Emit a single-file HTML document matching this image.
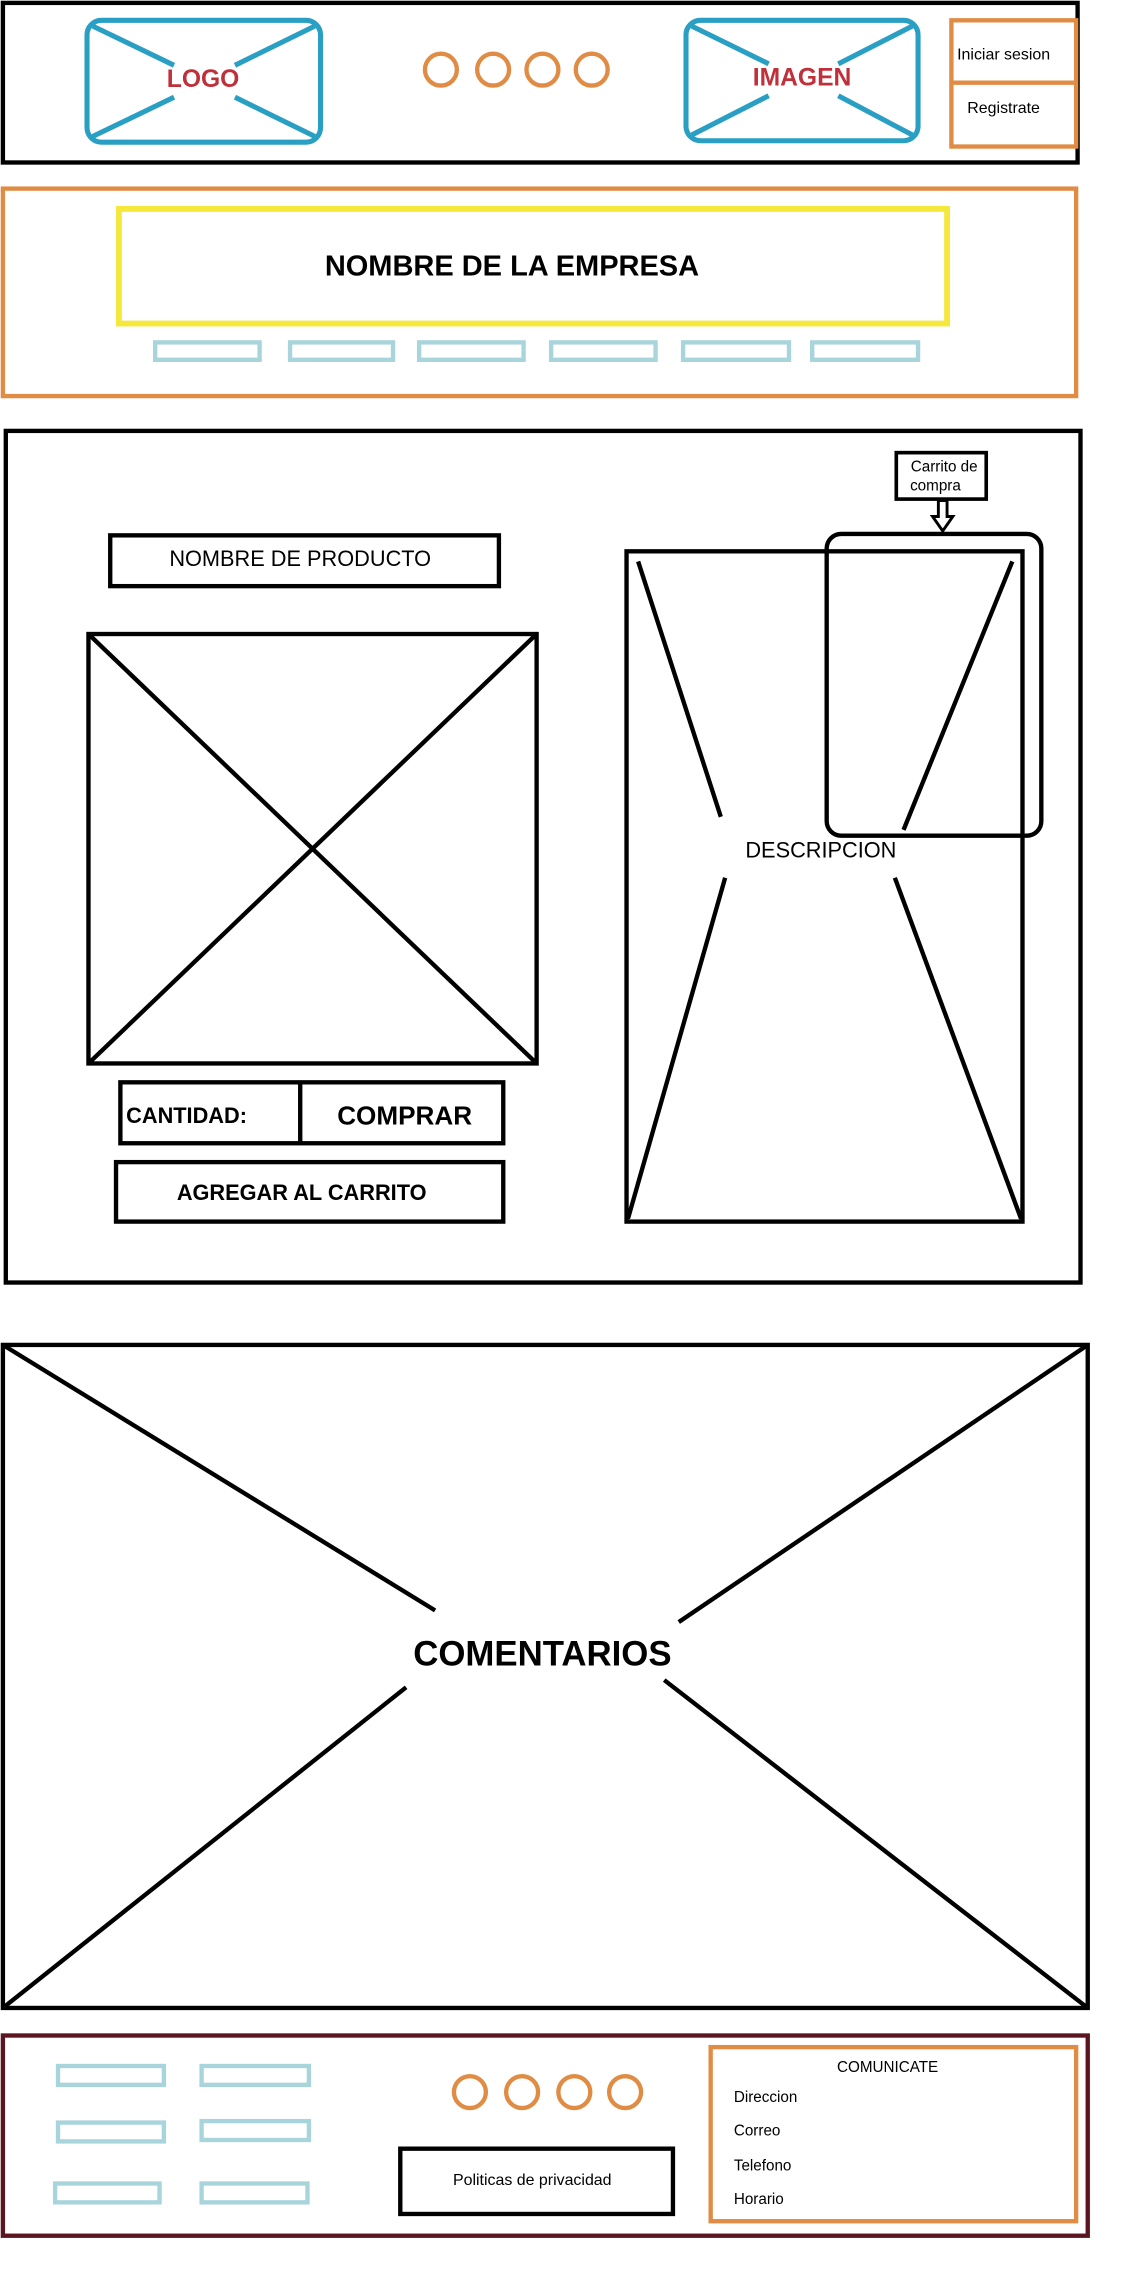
<!DOCTYPE html>
<html><head><meta charset="utf-8"><style>
html,body{margin:0;padding:0;background:#fff;width:1124px;height:2272px;overflow:hidden}
svg{display:block}
text{font-family:"Liberation Sans",sans-serif}
</style></head><body>
<svg width="1124" height="2272" viewBox="0 0 775 1566" preserveAspectRatio="none" fill="none">
<g>
<rect x="2" y="2" width="741" height="110" stroke="#000" stroke-width="3"/>
<g stroke="#2a9fc4" stroke-width="3.5">
<rect x="60" y="14" width="161" height="84" rx="10"/>
<line x1="64" y1="18" x2="120" y2="45"/><line x1="217" y1="18" x2="162" y2="45"/>
<line x1="64" y1="94" x2="120" y2="67"/><line x1="217" y1="94" x2="162" y2="67"/>
</g>
<text x="140" y="60" text-anchor="middle" font-size="17" font-weight="bold" fill="#c0303a">LOGO</text>
<g stroke="#e08c44" stroke-width="3">
<circle cx="304" cy="48" r="11"/><circle cx="340" cy="48" r="11"/><circle cx="374" cy="48" r="11"/><circle cx="408" cy="48" r="11"/>
</g>
<g stroke="#2a9fc4" stroke-width="3.5">
<rect x="473" y="14" width="160" height="83" rx="10"/>
<line x1="477" y1="18" x2="530" y2="44"/><line x1="629" y1="18" x2="578" y2="44"/>
<line x1="477" y1="93" x2="530" y2="66"/><line x1="629" y1="93" x2="578" y2="66"/>
</g>
<text x="553" y="59" text-anchor="middle" font-size="17" font-weight="bold" fill="#c0303a">IMAGEN</text>
<rect x="656" y="14" width="86" height="87" stroke="#e08c44" stroke-width="3"/>
<line x1="656" y1="57" x2="742" y2="57" stroke="#e08c44" stroke-width="3"/>
<text x="692" y="41" text-anchor="middle" font-size="11" fill="#000">Iniciar sesion</text>
<text x="692" y="78" text-anchor="middle" font-size="11" fill="#000">Registrate</text>
</g>
<g>
<rect x="2" y="130" width="740" height="143" stroke="#e08c44" stroke-width="3"/>
<rect x="82" y="144" width="571" height="79" stroke="#f5e83a" stroke-width="4"/>
<text x="353" y="190" text-anchor="middle" font-size="20" font-weight="bold" fill="#000">NOMBRE DE LA EMPRESA</text>
<g stroke="#a8d4dc" stroke-width="3">
<rect x="107" y="236" width="72" height="12"/><rect x="200" y="236" width="71" height="12"/><rect x="289" y="236" width="72" height="12"/>
<rect x="380" y="236" width="72" height="12"/><rect x="471" y="236" width="73" height="12"/><rect x="560" y="236" width="73" height="12"/>
</g>
</g>
<g stroke="#000" stroke-width="3">
<rect x="4" y="297" width="741" height="587"/>
<rect x="76" y="369" width="268" height="35"/>
<g>
<rect x="61" y="437" width="309" height="296"/>
<line x1="61" y1="437" x2="370" y2="733"/><line x1="370" y1="437" x2="61" y2="733"/>
</g>
<rect x="83" y="746" width="264" height="42"/>
<line x1="207" y1="746" x2="207" y2="788"/>
<rect x="80" y="801" width="267" height="41"/>
<g>
<rect x="432" y="380" width="273" height="462"/>
<line x1="440" y1="387" x2="497" y2="563"/><line x1="698" y1="387" x2="623" y2="572"/>
<line x1="433" y1="840" x2="500" y2="605"/><line x1="704" y1="840" x2="617" y2="605"/>
</g>
<rect x="570" y="368" width="148" height="208" rx="10"/>
<rect x="618" y="312" width="62" height="32" stroke-width="2.5"/>
<path d="M647 345 V356 H643 L650 366 L657 356 H653 V345 Z" stroke-width="2"/>
</g>
<g fill="#000">
<text x="207" y="390" text-anchor="middle" font-size="15">NOMBRE DE PRODUCTO</text>
<text x="87" y="774" font-size="15" font-weight="bold">CANTIDAD:</text>
<text x="279" y="775" text-anchor="middle" font-size="18" font-weight="bold">COMPRAR</text>
<text x="208" y="827" text-anchor="middle" font-size="15" font-weight="bold">AGREGAR AL CARRITO</text>
<text x="566" y="591" text-anchor="middle" font-size="15">DESCRIPCION</text>
<text x="651" y="325" text-anchor="middle" font-size="10.5">Carrito de</text>
<text x="645" y="338" text-anchor="middle" font-size="10.5">compra</text>
</g>
<g stroke="#000" stroke-width="3">
<rect x="2" y="927" width="748" height="457"/>
<line x1="2" y1="927" x2="300" y2="1110"/><line x1="750" y1="927" x2="468" y2="1118"/>
<line x1="2" y1="1384" x2="280" y2="1163"/><line x1="750" y1="1384" x2="458" y2="1158"/>
</g>
<text x="374" y="1148" text-anchor="middle" font-size="24" font-weight="bold" fill="#000">COMENTARIOS</text>
<g>
<rect x="2" y="1403" width="748" height="138" stroke="#5a1520" stroke-width="3"/>
<g stroke="#a8d4dc" stroke-width="3">
<rect x="40" y="1424" width="73" height="13"/><rect x="139" y="1424" width="74" height="13"/>
<rect x="40" y="1463" width="73" height="13"/><rect x="139" y="1462" width="74" height="13"/>
<rect x="38" y="1505" width="72" height="13"/><rect x="139" y="1505" width="73" height="13"/>
</g>
<g stroke="#e08c44" stroke-width="3">
<circle cx="324" cy="1442" r="11"/><circle cx="360" cy="1442" r="11"/><circle cx="396" cy="1442" r="11"/><circle cx="431" cy="1442" r="11"/>
</g>
<rect x="276" y="1481" width="188" height="45" stroke="#000" stroke-width="3"/>
<text x="367" y="1506" text-anchor="middle" font-size="11" fill="#000">Politicas de privacidad</text>
<rect x="490" y="1411" width="252" height="120" stroke="#e08c44" stroke-width="3"/>
<g fill="#000" font-size="10.5">
<text x="612" y="1428" text-anchor="middle">COMUNICATE</text>
<text x="506" y="1449">Direccion</text>
<text x="506" y="1472">Correo</text>
<text x="506" y="1496">Telefono</text>
<text x="506" y="1519">Horario</text>
</g>
</g>
</svg>
</body></html>
